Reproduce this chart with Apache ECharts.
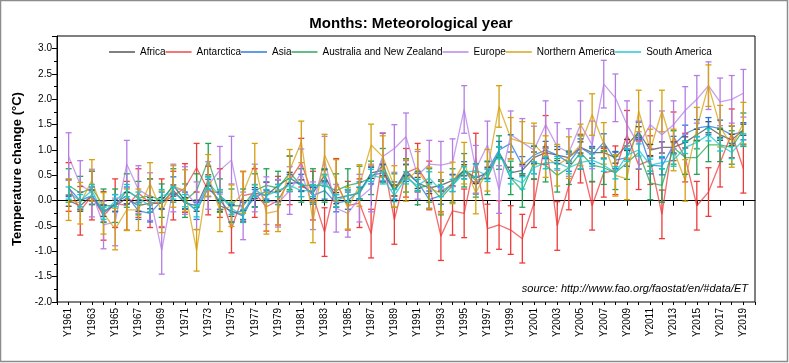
<!DOCTYPE html>
<html><head><meta charset="utf-8">
<script src="https://cdn.jsdelivr.net/npm/echarts@6/dist/echarts.min.js"></script>
<style>html,body{margin:0;padding:0;background:#fff}#c{width:789px;height:363px}</style>
</head><body><div id="c"></div>
<script>
const years = [];
for (let y = 1961; y <= 2019; y++) years.push(y);
const tickLabelYears = years.filter(y => y % 2 === 1);

const seriesNames = ["Africa","Antarctica","Asia","Australia and New Zealand","Europe","Northern America","South America"];
const colors = ["#4a4a4a","#ef3a3a","#1f72e0","#1fa352","#b47de6","#d6a00e","#12c6cc"];
// half-length of the error bars (standard deviation), one per region
const stdDev = [0.11, 0.48, 0.17, 0.33, 0.47, 0.41, 0.12];

const africa = [0.0,-0.1,0.1,-0.2,-0.1,0.05,-0.1,-0.05,-0.05,0.2,-0.05,-0.1,0.4,-0.1,-0.2,-0.3,0.15,0.1,0.3,0.45,0.3,0.15,0.5,0.05,0.1,0.15,0.55,0.6,0.2,0.6,0.35,0.25,0.3,0.4,0.6,0.45,0.55,0.95,0.55,0.6,0.85,0.95,0.9,0.85,1.05,0.95,0.95,0.85,1.1,1.35,1.0,1.05,1.05,1.15,1.3,1.45,1.3,1.2,1.4];
const antarctica = [0.27,-0.2,0.1,-0.3,-0.05,-0.1,0.15,-0.05,-0.05,0.1,0.25,0.65,0.2,0.15,-0.55,0.1,0.15,-0.12,0.0,0.4,0.75,0.1,-0.62,0.35,-0.1,-0.05,-0.65,0.85,-0.38,0.55,0.65,0.3,-0.7,-0.2,-0.25,0.85,-0.55,-0.48,-0.58,-0.75,-0.05,1.2,-0.5,0.3,0.83,-0.1,0.55,0.6,1.3,0.7,0.8,-0.27,1.27,0.85,-0.1,0.17,0.75,1.33,0.63];
const asia = [0.25,0.0,0.1,-0.25,-0.05,0.1,-0.2,-0.25,0.0,0.3,0.0,-0.2,0.25,0.0,-0.25,-0.2,0.05,0.2,0.15,0.35,0.35,0.1,0.2,-0.05,0.0,0.2,0.5,0.55,0.2,0.55,0.37,0.02,0.1,0.35,0.6,0.3,0.6,1.0,1.13,0.7,0.9,1.0,0.9,0.75,1.05,0.9,1.15,0.8,0.85,1.38,0.7,0.68,1.1,1.32,1.43,1.47,1.42,1.3,1.37];
const ausNz = [0.3,0.15,0.25,-0.1,-0.1,0.2,0.05,0.1,0.0,0.3,0.0,0.2,0.8,0.1,-0.1,-0.1,0.2,0.3,0.25,0.55,0.3,0.3,0.3,0.2,0.3,0.35,0.45,0.7,0.2,0.5,0.25,0.3,0.05,0.3,0.6,0.4,0.45,0.95,0.45,0.2,0.75,0.7,0.5,0.65,0.95,0.7,0.65,0.55,0.75,0.95,0.35,0.3,1.05,0.85,0.85,1.1,1.1,1.05,1.4];
const europe = [0.87,0.32,0.15,-0.48,-0.42,0.72,0.22,0.08,-0.98,0.25,0.2,-0.1,0.3,0.6,0.8,-0.3,0.25,0.0,-0.05,0.2,0.55,-0.1,0.8,-0.15,-0.25,0.05,0.25,0.87,1.03,1.26,0.5,0.72,0.7,0.75,1.8,0.62,1.1,0.22,1.3,1.15,1.0,1.5,1.07,0.95,1.5,1.1,2.3,2.03,1.5,1.1,1.5,1.3,1.5,1.78,2.0,2.27,1.95,2.0,2.12];
const northAmerica = [0.02,-0.05,0.4,-0.25,-0.56,-0.18,-0.18,0.34,-0.22,0.28,0.2,-0.98,0.5,-0.2,-0.1,0.16,0.72,-0.25,-0.2,0.6,1.16,-0.42,0.9,0.4,-0.15,0.3,1.1,0.87,0.28,0.4,0.6,0.25,0.15,0.35,0.74,0.15,0.6,1.86,1.23,1.15,1.12,0.87,0.7,0.85,1.1,1.7,1.13,0.5,0.43,1.77,1.0,1.77,1.0,0.4,1.43,2.27,1.47,1.07,1.53];
const southAmerica = [0.15,0.0,0.2,-0.25,0.0,0.2,0.05,-0.1,0.1,0.15,0.0,-0.2,0.35,0.1,-0.15,-0.3,0.2,0.1,0.2,0.3,0.2,0.2,0.4,0.0,0.1,0.15,0.5,0.45,0.1,0.45,0.3,0.45,0.2,0.3,0.55,0.6,0.5,0.95,0.45,0.35,0.65,0.75,0.75,0.65,0.75,0.8,0.7,0.55,0.9,1.0,0.7,0.75,0.8,1.05,1.15,1.3,1.1,0.95,1.2];

const allValues = [africa, antarctica, asia, ausNz, europe, northAmerica, southAmerica];

const chart = echarts.init(document.getElementById('c'), null, {renderer: 'canvas'});
const font = '"Liberation Sans", Arial, sans-serif';

const series = [];
allValues.forEach((vals, i) => {
  const data = years.map((y, k) => [y, vals[k]]);
  series.push({
    name: seriesNames[i], type: 'line', data: data, symbol: 'none',
    lineStyle: {color: colors[i], width: 1.3, opacity: 0.75},
    itemStyle: {color: colors[i]},
    xAxisIndex: 0, yAxisIndex: 0, z: 2, animation: false
  });
});
allValues.forEach((vals, i) => {
  const data = years.map((y, k) => [y, vals[k]]);
  series.push({
    name: seriesNames[i] + ' error', type: 'custom', data: data, z: 3, animation: false,
    renderItem: function (params, api) {
      const x = api.value(0), v = api.value(1), e = stdDev[i];
      const top = api.coord([x, v + e]);
      const bot = api.coord([x, v - e]);
      const w = 3;
      const st = {stroke: colors[i], lineWidth: 1.3};
      return {type: 'group', children: [
        {type: 'line', shape: {x1: top[0], y1: top[1], x2: bot[0], y2: bot[1]}, style: st},
        {type: 'line', shape: {x1: top[0]-w, y1: top[1], x2: top[0]+w, y2: top[1]}, style: st},
        {type: 'line', shape: {x1: bot[0]-w, y1: bot[1], x2: bot[0]+w, y2: bot[1]}, style: st}
      ]};
    }
  });
});

chart.setOption({
  animation: false,
  title: {text: 'Months: Meteorological year', left: 406, top: 11, textAlign: 'center',
    textStyle: {fontFamily: font, fontSize: 15, fontWeight: 'bold', color: '#000'}},
  legend: {data: seriesNames, left: 104, top: 42, orient: 'horizontal', icon: 'rect',
    itemWidth: 26, itemHeight: 1.4, itemGap: 0,
    textStyle: {fontFamily: font, fontSize: 10, color: '#000'}},
  grid: {left: 57, top: 36, right: 34, bottom: 61, show: true, borderColor: '#000', borderWidth: 1},
  xAxis: [{
    type: 'value', min: 1960, max: 2020,
    axisLine: {lineStyle: {color: '#000', width: 1}},
    axisTick: {customValues: tickLabelYears, length: 5, lineStyle: {color: '#000'}},
    axisLabel: {customValues: tickLabelYears, rotate: 90, fontFamily: font, fontSize: 10, color: '#000', margin: 6,
      formatter: v => 'Y' + v},
    splitLine: {show: false}
  }, {
    type: 'value', min: 1960, max: 2020, interval: 1, position: 'bottom',
    axisLine: {show: false},
    axisTick: {length: 3, lineStyle: {color: '#000'}},
    axisLabel: {show: false}, splitLine: {show: false}
  }],
  yAxis: {
    type: 'value', min: -2, max: 3.25, interval: 0.5,
    name: 'Temperature change (°C)', nameLocation: 'middle', nameGap: 26,
    nameTextStyle: {fontFamily: font, fontSize: 13, fontWeight: 'bold', color: '#000'},
    axisLine: {show: true, lineStyle: {color: '#000'}},
    axisTick: {show: true, length: 5, lineStyle: {color: '#000'}},
    minorTick: {show: true, splitNumber: 2, length: 3, lineStyle: {color: '#000'}},
    axisLabel: {fontFamily: font, fontSize: 10, color: '#000', margin: 5,
      formatter: v => (Math.abs(v * 2 - Math.round(v * 2)) < 1e-6) ? v.toFixed(1) : ''},
    splitLine: {show: false}
  },
  graphic: [
    {type: 'rect', shape: {x: 0.5, y: 0.5, width: 787, height: 361}, style: {fill: 'none', stroke: '#8c8c8c', lineWidth: 1.5}, silent: true},
    {type: 'text', right: 41, top: 283, style: {text: 'source: http://www.fao.org/faostat/en/#data/ET', fontFamily: font, fontSize: 11, fontStyle: 'italic', fill: '#000'}}
  ],
  series: series
});
</script></body></html>
